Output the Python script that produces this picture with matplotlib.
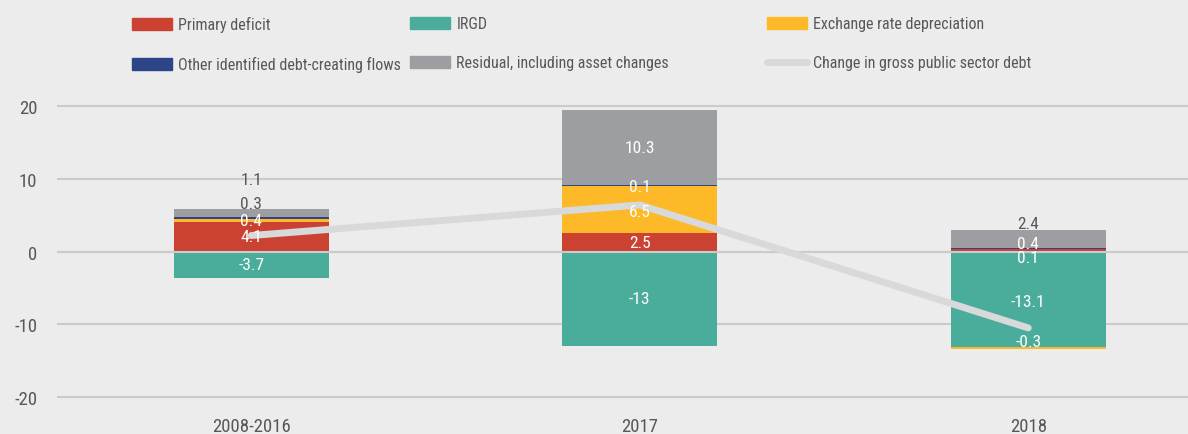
import matplotlib
matplotlib.use("Agg")
import matplotlib.pyplot as plt
import numpy as np
from matplotlib.patches import Patch
from matplotlib.lines import Line2D

plt.rcParams["font.family"] = ["Roboto Condensed", "Roboto", "DejaVu Sans"]
plt.rcParams["axes.unicode_minus"] = False

categories = ["2008-2016", "2017", "2018"]

primary_deficit = [4.1, 2.5, 0.4]
irgd = [-3.7, -13.0, -13.1]
exchange_rate = [0.4, 6.5, -0.3]
other_flows = [0.3, 0.1, 0.1]
residual = [1.1, 10.3, 2.4]
change_in_debt = [2.2, 6.4, -10.5]

# stacking order, bottom to top
series = [
    ("Primary deficit", primary_deficit, "#cc4232"),
    ("IRGD", irgd, "#4aac9a"),
    ("Exchange rate depreciation", exchange_rate, "#fdb927"),
    ("Other identified debt-creating flows", other_flows, "#2d4588"),
    ("Residual, including asset changes", residual, "#9d9ea2"),
]
line_color = "#d8d9db"

# nudges for the value labels (data units) where they would overlap
label_shift = {
    (0, 3): 1.95, (0, 4): 4.55,
    (1, 2): -0.25, (1, 3): -0.15,
    (2, 0): 0.9, (2, 3): -1.25, (2, 4): 2.1, (2, 1): -0.35, (2, 2): 0.85,
}

bg = "#ececec"
text_dark = "#58585a"

fig = plt.figure(figsize=(11.88, 4.35), dpi=100, facecolor=bg)
ax = fig.add_axes([57 / 1188, 0.0683, 1 - 57 / 1188, 0.694])
ax.set_facecolor(bg)

x = np.arange(len(categories))
width = 0.4
pos_base = np.zeros(len(categories))
neg_base = np.zeros(len(categories))

labels = []
for si, (name, vals, color) in enumerate(series):
    vals = np.array(vals, dtype=float)
    base = np.where(vals >= 0, pos_base, neg_base)
    ax.bar(x, vals, width, bottom=base, color=color, zorder=2, linewidth=0)
    for ci, v in enumerate(vals):
        labels.append((ci, si, v, base[ci] + v / 2))
    pos_base = pos_base + np.where(vals >= 0, vals, 0)
    neg_base = neg_base + np.where(vals < 0, vals, 0)

for ci, si, v, yc in labels:
    y = yc + label_shift.get((ci, si), 0.0)
    inside = neg_base[ci] <= y <= pos_base[ci]
    ax.text(x[ci], y, f"{v:g}", ha="center", va="center",
            fontsize=12.5, color="white" if inside else text_dark, zorder=5)

ax.axhline(0, color="#cbcbcb", lw=1.5, zorder=3)
ax.plot(x, change_in_debt, color=line_color, lw=5, solid_capstyle="round",
        solid_joinstyle="round", zorder=4)

ax.set_xlim(-0.5, -0.5 + 1131 / 388.5)
ax.set_ylim(-21, 20.5)
ax.set_yticks([-20, -10, 0, 10, 20])
ax.set_xticks(x)
ax.set_xticklabels(categories)
ax.grid(axis="y", color="#cbcbcb", lw=1.5, zorder=0)
ax.set_axisbelow(True)
for s in ax.spines.values():
    s.set_visible(False)
ax.tick_params(axis="both", length=0, labelsize=13.5, colors=text_dark)
ax.tick_params(axis="y", pad=14)
ax.tick_params(axis="x", pad=9)

handles = [Patch(color=c, label=n) for n, _, c in series]
handles.append(Line2D([], [], color=line_color, lw=5, solid_capstyle="round",
                      label="Change in gross public sector debt"))
columns = [[0, 3], [1, 4], [2, 5]]
col_x = [132, 410, 767]
for cols, cx in zip(columns, col_x):
    fig.legend([handles[i] for i in cols], [handles[i].get_label() for i in cols],
               loc="upper left", bbox_to_anchor=(cx / 1188, 0.96), ncol=1,
               frameon=False, fontsize=11.5, labelcolor=text_dark,
               handlelength=2.5, handleheight=0.8, handletextpad=0.4,
               labelspacing=1.5, borderpad=0, borderaxespad=0)

fig.savefig("out.png", dpi=100, facecolor=bg)
